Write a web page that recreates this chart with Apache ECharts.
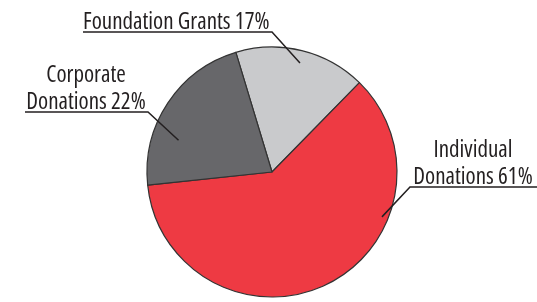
<!DOCTYPE html>
<html>
<head>
<meta charset="utf-8">
<script src="https://cdn.jsdelivr.net/npm/echarts@6/dist/echarts.min.js"></script>
<style>
html,body{margin:0;padding:0;background:#fff;}
#chart{width:537px;height:302px;}
</style>
</head>
<body>
<div id="chart"></div>
<script>
// Data
const categories = ['Foundation Grants', 'Individual\nDonations', 'Corporate\nDonations'];
const shares = [17, 61, 22];

// Styling / layout
const sliceColors = ['#C9CACC', '#EE3A43', '#67676A'];
const CX = 272, CY = 172, R = 125;
const START_ANGLE = 106.8;
const FONT = '"Open Sans", "Noto Sans", sans-serif';
const INK = '#231F20';

// label placement: text anchor, underline, leader target (polar, deg clockwise from top, fraction of radius)
const labelConf = [
  { x: 83,  y: 36,  align: 'left',   lineY: 32,  elbowX: 272, endX: 83,  angle: 14.4,  frac: 0.90 },
  { x: 473, y: 191, align: 'center', lineY: 187, elbowX: 410, endX: 537, angle: 112.2, frac: 0.95 },
  { x: 86,  y: 116, align: 'center', lineY: 112, elbowX: 148, endX: 25,  angle: 288.8, frac: 0.79 }
];

function polar(angleDeg, frac) {
  const a = angleDeg * Math.PI / 180;
  return [CX + R * frac * Math.sin(a), CY - R * frac * Math.cos(a)];
}

const leaderLines = labelConf.map(c => ({
  type: 'polyline',
  z: 100,
  shape: { points: [polar(c.angle, c.frac), [c.elbowX, c.lineY], [c.endX, c.lineY]] },
  style: { stroke: INK, lineWidth: 1.5, fill: null }
}));

const chart = echarts.init(document.getElementById('chart'), null, { renderer: 'canvas' });
chart.setOption({
  animation: false,
  backgroundColor: '#ffffff',
  graphic: leaderLines,
  series: [{
    type: 'pie',
    center: [CX, CY],
    radius: R,
    startAngle: START_ANGLE,
    clockwise: true,
    avoidLabelOverlap: false,
    emphasis: { disabled: true },
    itemStyle: { borderColor: '#333333', borderWidth: 1.2 },
    label: {
      show: true,
      position: 'outside',
      formatter: p => p.name + ' ' + p.value + '%',
      fontFamily: FONT,
      fontWeight: 'normal semi-condensed',
      fontSize: 23,
      lineHeight: 27,
      color: INK
    },
    labelLine: { show: false },
    labelLayout: function (params) {
      const c = labelConf[params.dataIndex];
      return { x: c.x, y: c.y, align: c.align, verticalAlign: 'bottom' };
    },
    data: categories.map((name, i) => ({
      name: name,
      value: shares[i],
      itemStyle: { color: sliceColors[i] }
    }))
  }]
});
</script>
</body>
</html>
